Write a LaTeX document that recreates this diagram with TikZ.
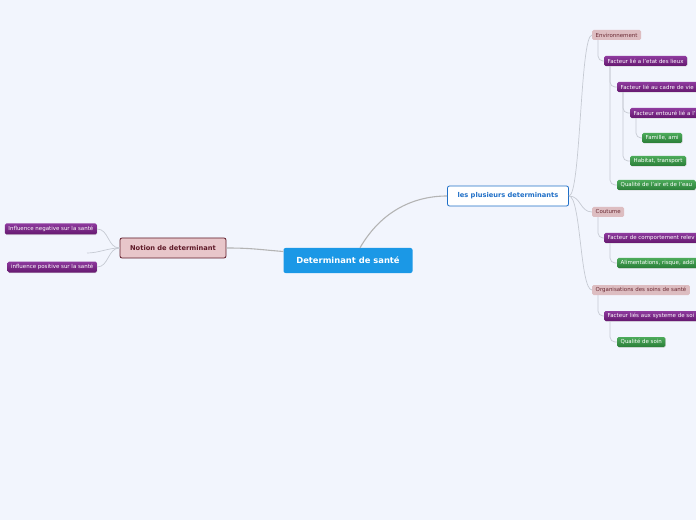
\documentclass[tikz,border=0pt]{standalone}
\usepackage{fontspec}
\setmainfont{DejaVu Sans}
\usepackage{tikz}
\usetikzlibrary{positioning,shadows}

\definecolor{bgblue}{HTML}{F2F5FD}
\definecolor{mainblue}{HTML}{1B98E6}
\definecolor{textblue}{HTML}{1F6FC7}
\definecolor{wine}{HTML}{5E1A28}
\definecolor{pinkfill}{HTML}{E8C6CA}
\definecolor{pinklight}{HTML}{DDBDC1}
\definecolor{pinktext}{HTML}{6A2A34}
\definecolor{purpletop}{HTML}{8E3A9E}
\definecolor{purplebot}{HTML}{65186F}
\definecolor{greentop}{HTML}{4CAA5A}
\definecolor{greenbot}{HTML}{2A7E38}
\definecolor{linkgray}{HTML}{C6CAD3}
\definecolor{maingray}{HTML}{B4B4B4}

\begin{document}
\begin{tikzpicture}[
  x=1bp, y=-1bp,
  every node/.style={font=\fontsize{5.5}{6.5}\selectfont, inner ysep=0pt, inner xsep=3.5bp, minimum height=10bp, rounded corners=1.5bp},
  centrebox/.style={fill=mainblue, text=white, font=\fontsize{8.4}{10}\bfseries, minimum width=129bp, minimum height=25bp, rounded corners=2bp},
  plusbox/.style={fill=white, draw=textblue, line width=0.8bp, text=textblue, font=\fontsize{6.7}{8}\bfseries, minimum width=121bp, minimum height=20bp, rounded corners=2bp},
  notionbox/.style={fill=pinkfill, draw=wine, line width=0.8bp, text=wine, font=\fontsize{6.7}{8}\bfseries, minimum width=106bp, minimum height=20bp, rounded corners=2bp},
  topicbox/.style={fill=pinklight, text=pinktext},
  purplebox/.style={top color=purpletop, bottom color=purplebot, text=white, drop shadow={shadow xshift=0.5bp, shadow yshift=-0.6bp, fill=black!25}},
  greenbox/.style={top color=greentop, bottom color=greenbot, text=white, drop shadow={shadow xshift=0.5bp, shadow yshift=-0.6bp, fill=black!25}},
  cutbox/.style={text width=100bp, align=left},
  link/.style={draw=linkgray, line width=0.7bp, rounded corners=5bp},
  mainlink/.style={draw=maingray, line width=1.1bp}
]
\useasboundingbox[fill=bgblue] (0,0) rectangle (696,520);

% centre and main branches
\node[centrebox] (centre) at (348,260.5) {Determinant de santé};
\node[plusbox] (plus) at (508,196) {les plusieurs determinants};
\node[notionbox] (notion) at (173,248) {Notion de determinant};

\draw[mainlink] ([xshift=12bp]centre.north) .. controls +(22,-38) and +(-32,0) .. (plus.west);
\draw[mainlink] ([yshift=9bp]centre.west) .. controls +(-25,-2) and +(25,0) .. (notion.east);

% Notion de determinant
\node[purplebox, anchor=east, minimum height=11bp] (negatif) at (97,229) {Influence negative sur la santé};
\node[purplebox, anchor=east, minimum height=11bp] (positif) at (97,267) {influence positive sur la santé};
\coordinate (vide) at (87,253);
\foreach \n in {negatif.east, positif.east, vide}
  \draw[link] (notion.west) .. controls +(-12,0) and +(12,0) .. (\n);

% Environnement
\node[topicbox, anchor=west] (env) at (592,35) {Environnement};
\node[purplebox, anchor=west] (lieux) at (604,61) {Facteur lié a l'etat des lieux};
\node[purplebox, cutbox, anchor=west] (cadre) at (617,87) {Facteur lié au cadre de vie};
\node[purplebox, cutbox, anchor=west] (entoure) at (630,113) {Facteur entouré lié a l'};
\node[greenbox, anchor=west] (famille) at (642,138) {Famille, ami};
\node[greenbox, anchor=west] (habitat) at (630,161) {Habitat, transport};
\node[greenbox, anchor=west] (air) at (617,185) {Qualité de l'air et de l'eau};

% Coutume
\node[topicbox, anchor=west] (coutume) at (592,212) {Coutume};
\node[purplebox, cutbox, anchor=west] (comport) at (604,238) {Facteur de comportement relev};
\node[greenbox, cutbox, anchor=west] (alim) at (617,263) {Alimentations, risque, addi};

% Organisations des soins
\node[topicbox, anchor=west] (orga) at (592,290) {Organisations des soins de santé};
\node[purplebox, cutbox, anchor=west] (systeme) at (604,316) {Facteur liés aux systeme de soi};
\node[greenbox, anchor=west] (qualite) at (617,342) {Qualité de soin};

\foreach \n in {env, coutume, orga}
  \draw[link] (plus.east) .. controls +(12,0) and +(-12,0) .. (\n.west);

\draw[link] ([xshift=6bp]env.south west) |- (lieux.west);
\draw[link] ([xshift=6bp]lieux.south west) |- (cadre.west);
\draw[link] ([xshift=6bp]lieux.south west) |- (air.west);
\draw[link] ([xshift=6bp]cadre.south west) |- (entoure.west);
\draw[link] ([xshift=6bp]cadre.south west) |- (habitat.west);
\draw[link] ([xshift=6bp]entoure.south west) |- (famille.west);
\draw[link] ([xshift=6bp]coutume.south west) |- (comport.west);
\draw[link] ([xshift=6bp]comport.south west) |- (alim.west);
\draw[link] ([xshift=6bp]orga.south west) |- (systeme.west);
\draw[link] ([xshift=6bp]systeme.south west) |- (qualite.west);

\end{tikzpicture}
\end{document}
